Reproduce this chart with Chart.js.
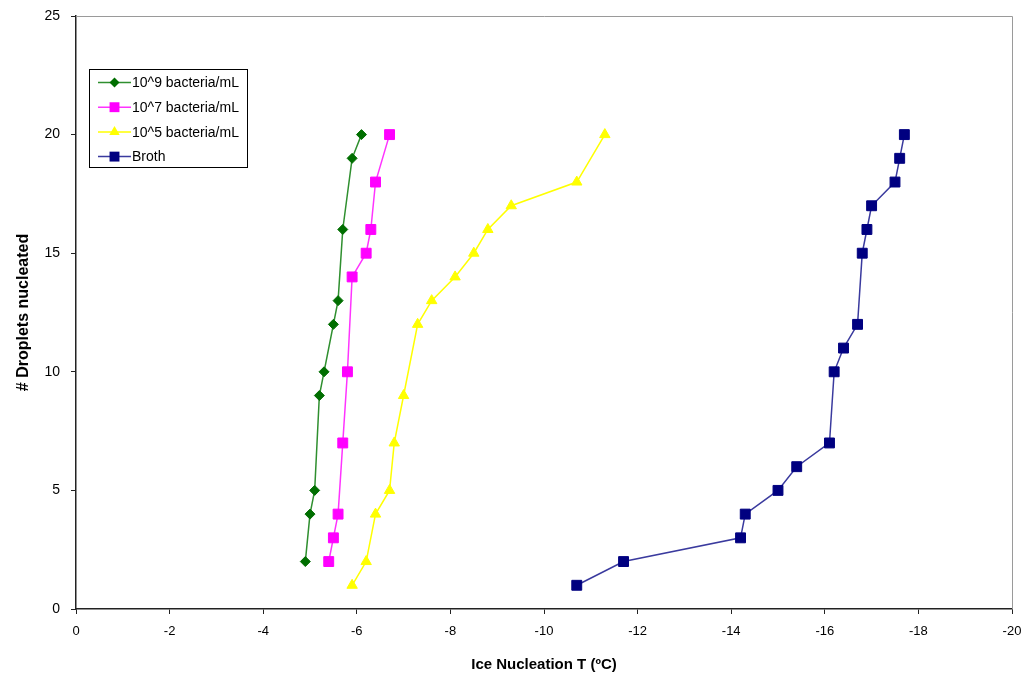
<!DOCTYPE html>
<html>
<head>
<meta charset="utf-8">
<script src="https://cdn.jsdelivr.net/npm/chart.js@4.4.1/dist/chart.umd.min.js"></script>
<style>
  html, body { margin: 0; padding: 0; background: #fff; }
  #wrap { width: 1025px; height: 683px; }
</style>
</head>
<body>
<div id="wrap"><canvas id="chart" width="1025" height="683"></canvas></div>
<script>
// data
const e9Temp  = [-4.9, -5.0, -5.1, -5.2, -5.3, -5.5, -5.6, -5.7, -5.9, -6.1];
const e9Count = [2, 4, 5, 9, 10, 12, 13, 16, 19, 20];

const e7Temp  = [-5.4, -5.5, -5.6, -5.7, -5.8, -5.9, -6.2, -6.3, -6.4, -6.7];
const e7Count = [2, 3, 4, 7, 10, 14, 15, 16, 18, 20];

const e5Temp  = [-5.9, -6.2, -6.4, -6.7, -6.8, -7.0, -7.3, -7.6, -8.1, -8.5, -8.8, -9.3, -10.7, -11.3];
const e5Count = [1, 2, 4, 5, 7, 9, 12, 13, 14, 15, 16, 17, 18, 20];

const brothTemp  = [-10.7, -11.7, -14.2, -14.3, -15.0, -15.4, -16.1, -16.2, -16.4, -16.7, -16.8, -16.9, -17.0, -17.5, -17.6, -17.7];
const brothCount = [1, 2, 3, 4, 5, 6, 7, 10, 11, 12, 15, 16, 17, 18, 19, 20];

const seriesNames = ['10^9 bacteria/mL', '10^7 bacteria/mL', '10^5 bacteria/mL', 'Broth'];
const xTitle = 'Ice Nucleation T (\u00baC)';
const yTitle = '# Droplets nucleated';

const pts = (xs, ys) => xs.map((x, i) => ({ x, y: ys[i] }));

const sans = "'Liberation Sans', Arial, sans-serif";

// grey frame on top/right of plot area
const framePlugin = {
  id: 'frame',
  beforeDatasetsDraw(chart) {
    const { ctx, chartArea: a } = chart;
    ctx.save();
    ctx.strokeStyle = '#9a9a9a';
    ctx.lineWidth = 1;
    ctx.beginPath();
    ctx.moveTo(a.left, a.top + 0.5);
    ctx.lineTo(a.right + 0.5, a.top + 0.5);
    ctx.lineTo(a.right + 0.5, a.bottom);
    ctx.stroke();
    ctx.restore();
  }
};

// legend box drawn inside the plot, top-left
const boxLegend = {
  id: 'boxLegend',
  afterDraw(chart) {
    const ctx = chart.ctx;
    const x0 = 89.5, y0 = 69.5, w = 158, h = 98;
    ctx.save();
    ctx.fillStyle = '#fff';
    ctx.fillRect(x0, y0, w, h);
    ctx.strokeStyle = '#000';
    ctx.lineWidth = 1;
    ctx.strokeRect(x0, y0, w, h);
    chart.data.datasets.forEach((ds, i) => {
      const y = 82.5 + i * 24.7;
      ctx.strokeStyle = ds.borderColor;
      ctx.lineWidth = ds.borderWidth;
      ctx.beginPath();
      ctx.moveTo(98, y);
      ctx.lineTo(131, y);
      ctx.stroke();
      ctx.fillStyle = ds.pointBackgroundColor;
      ctx.beginPath();
      drawMarker(ctx, ds.pointStyle, ds.pointRadius, 114.5, y);
      ctx.fill();
      ctx.fillStyle = '#000';
      ctx.font = '14px ' + sans;
      ctx.textBaseline = 'middle';
      ctx.fillText(ds.label, 132, y + 1);
    });
    ctx.restore();
  }
};

function drawMarker(ctx, style, r, x, y) {
  if (style === 'rectRot') {
    ctx.moveTo(x, y - r); ctx.lineTo(x + r, y); ctx.lineTo(x, y + r); ctx.lineTo(x - r, y); ctx.closePath();
  } else if (style === 'triangle') {
    ctx.moveTo(x, y - r); ctx.lineTo(x + r * 0.87, y + r * 0.5); ctx.lineTo(x - r * 0.87, y + r * 0.5); ctx.closePath();
  } else {
    const s = r * Math.SQRT1_2;
    ctx.rect(x - s, y - s, s * 2, s * 2);
  }
}

function makeSet(label, data, line, mark, style, radius) {
  return {
    label, data,
    borderColor: line,
    borderWidth: 1.5,
    pointStyle: style,
    pointRadius: radius,
    pointHoverRadius: radius,
    pointBackgroundColor: mark,
    pointBorderColor: mark,
    pointBorderWidth: 1,
    tension: 0,
    fill: false,
    showLine: true
  };
}

new Chart(document.getElementById('chart').getContext('2d'), {
  type: 'scatter',
  data: {
    datasets: [
      makeSet(seriesNames[0], pts(e9Temp, e9Count), '#2f8f2f', '#006e00', 'rectRot', 5),
      makeSet(seriesNames[1], pts(e7Temp, e7Count), '#ff33ff', '#ff00ff', 'rect', 7),
      makeSet(seriesNames[2], pts(e5Temp, e5Count), '#ffff00', '#ffff00', 'triangle', 6),
      makeSet(seriesNames[3], pts(brothTemp, brothCount), '#3a3a9e', '#000080', 'rect', 7)
    ]
  },
  options: {
    responsive: false,
    animation: false,
    layout: { padding: { left: 0, right: 13, top: 16, bottom: 0 } },
    plugins: {
      legend: { display: false },
      tooltip: { enabled: false }
    },
    scales: {
      x: {
        type: 'linear',
        min: -20, max: 0,
        reverse: true,
        afterFit: s => { s.height = 74; s.paddingLeft = 0; s.paddingRight = 0; },
        border: { display: true, color: '#222', width: 1.5 },
        grid: { drawOnChartArea: false, drawTicks: true, tickLength: 5, color: '#222' },
        ticks: {
          stepSize: 2,
          padding: 10,
          color: '#000',
          font: { family: sans, size: 13 },
          maxRotation: 0
        },
        title: {
          display: true,
          text: xTitle,
          color: '#000',
          font: { family: sans, size: 15, weight: 'bold' },
          padding: { top: 0, bottom: 9 }
        }
      },
      y: {
        type: 'linear',
        min: 0, max: 25,
        afterFit: s => { s.width = 76; s.paddingTop = 0; s.paddingBottom = 0; },
        border: { display: true, color: '#222', width: 1.5 },
        grid: { drawOnChartArea: false, drawTicks: true, tickLength: 5, color: '#222' },
        ticks: {
          stepSize: 5,
          padding: 11,
          color: '#000',
          font: { family: sans, size: 14 }
        },
        title: {
          display: true,
          text: yTitle,
          color: '#000',
          font: { family: sans, size: 16, weight: 'bold' },
          padding: { top: 14, bottom: 0 }
        }
      }
    }
  },
  plugins: [framePlugin, boxLegend]
});
</script>
</body>
</html>
